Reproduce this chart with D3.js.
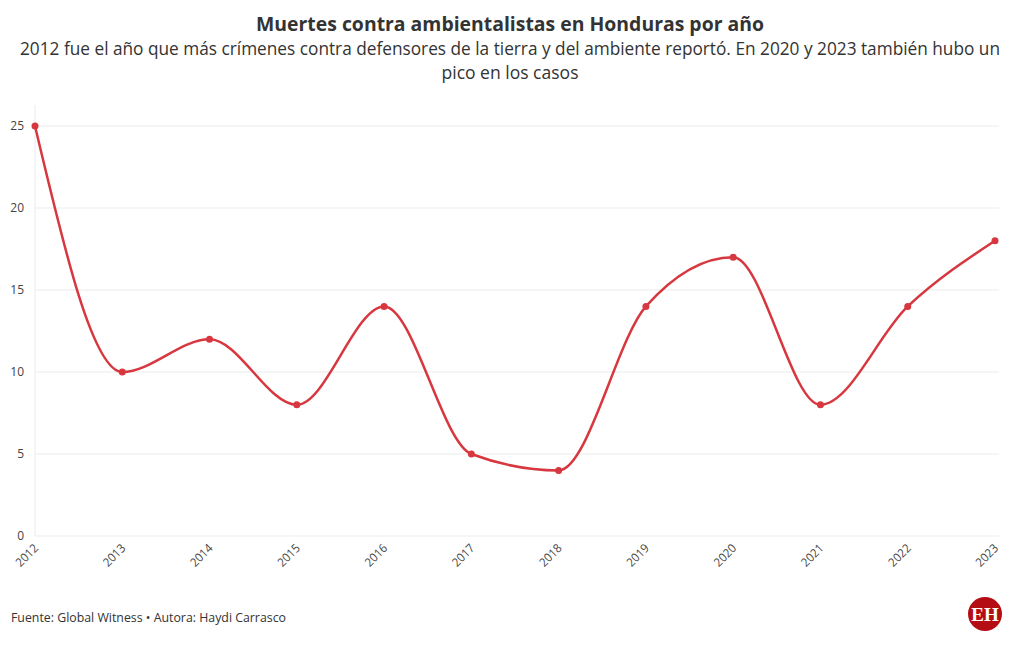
<!DOCTYPE html>
<html><head><meta charset="utf-8">
<script src="https://cdn.jsdelivr.net/npm/d3@7"></script>
<style>
body{margin:0;background:#fff;}
svg{display:block;font-family:"Open Sans","Noto Sans",sans-serif;}
</style></head>
<body><svg id="c" width="1020" height="650"></svg>
<script>
const years = [2012,2013,2014,2015,2016,2017,2018,2019,2020,2021,2022,2023];
const deaths = [25,10,12,8,14,5,4,14,17,8,14,18];
const yTicks = [0,5,10,15,20,25];
const title = "Muertes contra ambientalistas en Honduras por año";
const subtitle1 = "2012 fue el año que más crímenes contra defensores de la tierra y del ambiente reportó. En 2020 y 2023 también hubo un";
const subtitle2 = "pico en los casos";
const source = "Fuente: Global Witness • Autora: Haydi Carrasco";

const svg = d3.select("#c");
const x = d3.scaleLinear().domain([2012,2023]).range([35,995]);
const y = d3.scaleLinear().domain([0,25]).range([536,126]);
const color = "#d7373f";

function fitText(sel, w){ sel.attr("textLength",w).attr("lengthAdjust","spacingAndGlyphs"); }

svg.append("text").attr("x",510).attr("y",31).attr("text-anchor","middle")
  .attr("font-size",20).attr("font-weight","bold").attr("fill","#333").text(title)
  .call(fitText,508);
svg.append("text").attr("x",510).attr("y",55).attr("text-anchor","middle")
  .attr("font-size",17.5).attr("fill","#333").text(subtitle1).call(fitText,980);
svg.append("text").attr("x",510).attr("y",79).attr("text-anchor","middle")
  .attr("font-size",17.5).attr("fill","#333").text(subtitle2).call(fitText,137);

// grid
svg.append("g").selectAll("line").data(yTicks).join("line")
  .attr("x1",35).attr("x2",999).attr("y1",d=>y(d)).attr("y2",d=>y(d))
  .attr("stroke","#ebebeb").attr("stroke-width",1);
svg.append("line").attr("x1",35).attr("x2",35).attr("y1",105).attr("y2",536)
  .attr("stroke","#ebebeb");

// y labels
svg.append("g").selectAll("text").data(yTicks).join("text")
  .attr("x",24).attr("y",d=>y(d)+4).attr("text-anchor","end")
  .attr("font-size",12).attr("fill","#444").text(d=>d);

// x labels
svg.append("g").selectAll("text").data(years).join("text")
  .attr("transform",d=>`translate(${x(d)+4},${549}) rotate(-45)`)
  .attr("text-anchor","end").attr("font-size",12).attr("fill","#444").text(d=>d)
  .call(fitText,26);

const line = d3.line().x((d,i)=>x(years[i])).y(d=>y(d)).curve(d3.curveMonotoneX);
svg.append("path").datum(deaths).attr("d",line).attr("fill","none")
  .attr("stroke",color).attr("stroke-width",2.5);
svg.append("g").selectAll("circle").data(deaths).join("circle")
  .attr("cx",(d,i)=>x(years[i])).attr("cy",d=>y(d)).attr("r",3.5).attr("fill",color);

svg.append("text").attr("x",11).attr("y",622).attr("font-size",13).attr("fill","#333").text(source)
  .call(fitText,275);

// logo
svg.append("circle").attr("cx",985).attr("cy",614).attr("r",17).attr("fill","#b50d14");
svg.append("text").attr("x",985).attr("y",621).attr("text-anchor","middle")
  .attr("font-family","Liberation Serif,serif").attr("font-weight","bold")
  .attr("font-size",19).attr("fill","#fff").text("EH");
</script></body></html>
